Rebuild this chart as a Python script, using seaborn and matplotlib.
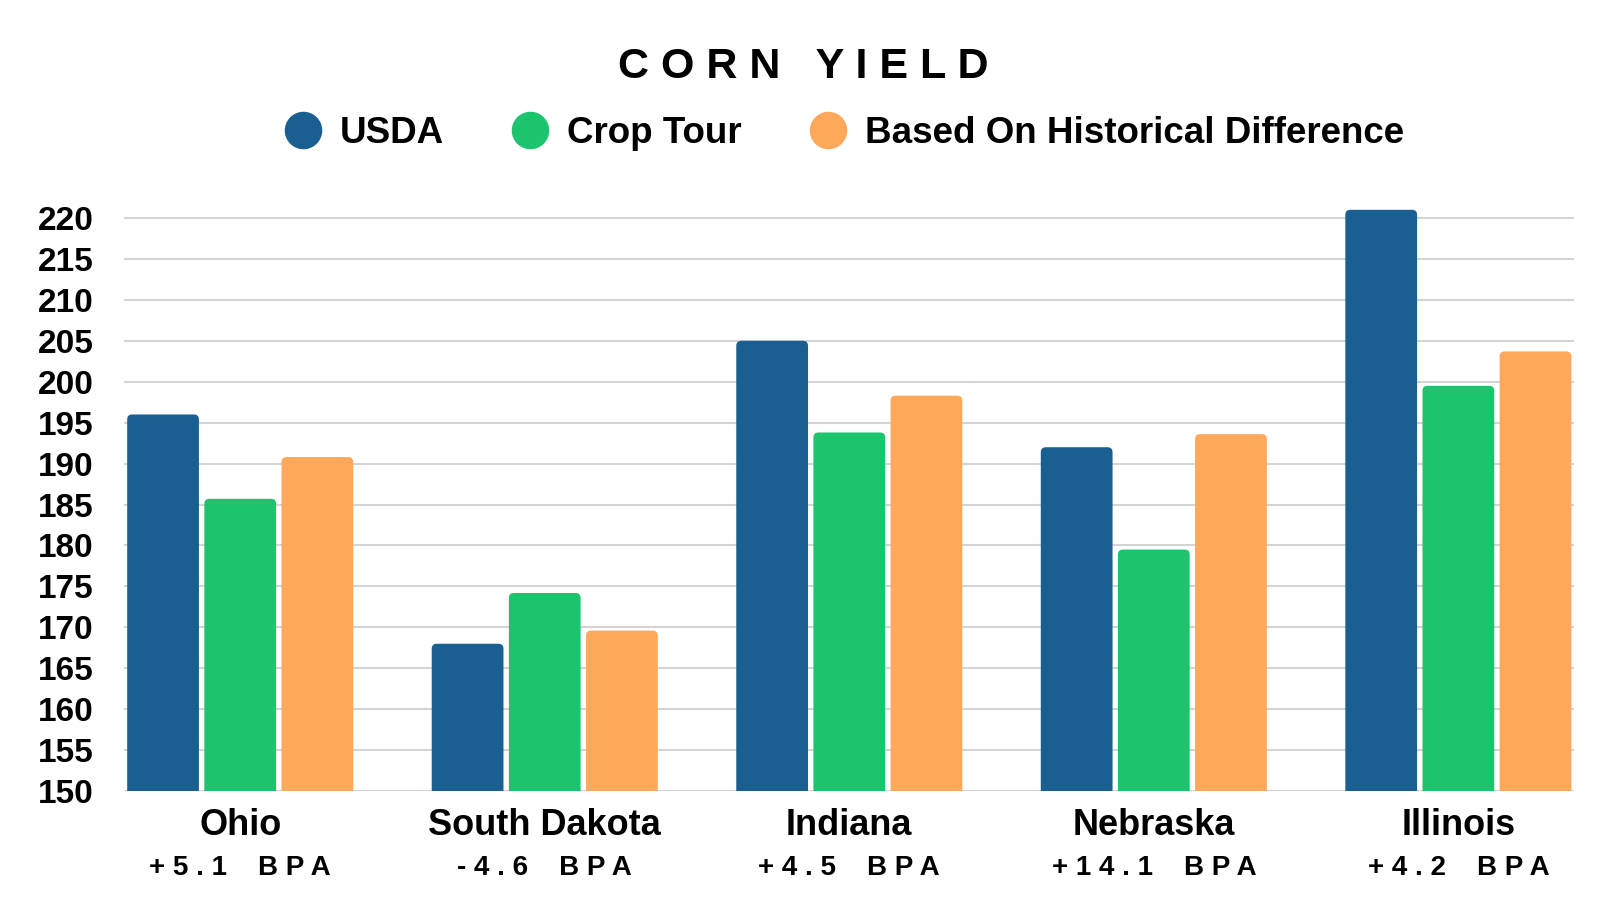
import matplotlib
matplotlib.use("Agg")
import matplotlib.pyplot as plt
import seaborn as sns
import pandas as pd
from matplotlib.lines import Line2D
from matplotlib.patches import FancyBboxPatch

states = ["Ohio", "South Dakota", "Indiana", "Nebraska", "Illinois"]
bpa_labels = ["+5.1 BPA", "-4.6 BPA", "+4.5 BPA", "+14.1 BPA", "+4.2 BPA"]
series = ["USDA", "Crop Tour", "Based On Historical Difference"]
usda = [196.0, 168.0, 205.0, 192.0, 221.0]
crop_tour = [185.7, 174.2, 193.8, 179.5, 199.5]
historical = [190.8, 169.6, 198.3, 193.6, 203.7]
colors = ["#1a5f91", "#1cc46e", "#fea85b"]
yticks = list(range(150, 225, 5))

rows = []
for vals, name in zip([usda, crop_tour, historical], series):
    for s, v in zip(states, vals):
        rows.append({"State": s, "Series": name, "Yield": v})
df = pd.DataFrame(rows)

sns.set_theme(style="white")
plt.rcParams["font.family"] = ["Liberation Sans", "DejaVu Sans"]
plt.rcParams["text.color"] = "black"
plt.rcParams["xtick.color"] = "black"
plt.rcParams["ytick.color"] = "black"

fig = plt.figure(figsize=(16, 9), dpi=100)
ax = fig.add_axes([0.0778, 0.121, 0.906, 0.655])

sns.barplot(data=df, x="State", y="Yield", hue="Series", order=states,
            hue_order=series, palette=colors, width=0.76, gap=0.07,
            saturation=1, edgecolor="none", linewidth=0, ax=ax, legend=False,
            zorder=3)

ax.set_ylim(150, 222)
ax.set_xlim(-0.38, len(states) - 1 + 0.38)

# rounded top corners
bbox = ax.get_window_extent()
xu = (ax.get_xlim()[1] - ax.get_xlim()[0]) / bbox.width
yu = (ax.get_ylim()[1] - ax.get_ylim()[0]) / bbox.height
asp = yu / xu
rad = 5 * xu
for p in list(ax.patches):
    x0, y0 = p.get_x(), p.get_y()
    w, h = p.get_width(), p.get_height()
    fc = p.get_facecolor()
    p.remove()
    ax.add_patch(FancyBboxPatch((x0, y0), w, h,
                                boxstyle=f"round,pad=0,rounding_size={rad}",
                                mutation_aspect=asp, facecolor=fc,
                                edgecolor="none", zorder=3))

ax.set_yticks(yticks)
ax.set_yticklabels([str(t) for t in yticks], fontsize=24, fontweight="bold")
ax.yaxis.grid(True, color="#d4d4d4", linewidth=1.5, zorder=0)
ax.xaxis.grid(False)
ax.set_axisbelow(True)
for sp in ax.spines.values():
    sp.set_visible(False)
ax.tick_params(axis="y", length=0, pad=22)
ax.tick_params(axis="x", length=0, pad=12)
ax.set_xlabel("")
ax.set_ylabel("")
ax.set_xticks(range(len(states)))
ax.set_xticklabels(states, fontsize=26, fontweight="bold")

def spaced(s):
    return " ".join(list(s)).replace("   ", "    ")

for i, lab in enumerate(bpa_labels):
    ax.text(i, -0.13, spaced(lab), transform=ax.get_xaxis_transform(),
            ha="center", va="center", fontsize=20, fontweight="bold")

fig.text(0.502, 0.925, "C O R N   Y I E L D", ha="center", va="center",
         fontsize=31, fontweight="bold")

handles = [Line2D([0], [0], marker="o", linestyle="none", markersize=26,
                  markerfacecolor=c, markeredgecolor=c) for c in colors]
fig.legend(handles, series, loc="center", bbox_to_anchor=(0.522, 0.852),
           ncol=3, frameon=False, handlelength=2.0, handletextpad=0.0,
           columnspacing=1.34, prop={"size": 26.5, "weight": "bold"})

fig.savefig("out.png", dpi=100, facecolor="white")
